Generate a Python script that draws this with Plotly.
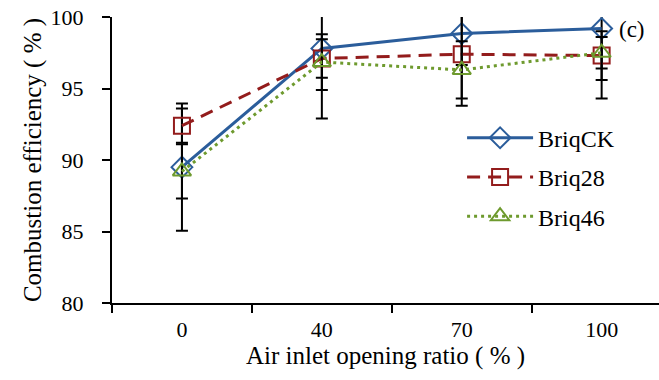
import plotly.graph_objects as go

# Air inlet opening ratio categories (%)
categories = ["0", "40", "70", "100"]

# Combustion efficiency (%) per briquette type
briq_ck = [89.5, 97.8, 98.85, 99.2]
briq_28 = [92.4, 97.1, 97.4, 97.3]
briq_46 = [89.2, 96.85, 96.3, 97.5]

# Symmetric error (+/-) for each point
err_ck = [4.45, 4.9, 2.2, 4.9]
err_28 = [1.2, 1.35, 3.6, 1.7]
err_46 = [1.9, 1.95, 2.0, 1.1]

names = ["BriqCK", "Briq28", "Briq46"]
colors = ["#2B5D9B", "#931C1C", "#6E9A2E"]
symbols = ["diamond-open", "square-open", "triangle-up-open"]
dashes = ["solid", "13px,8px", "3px,4px"]

FONT = "Liberation Serif"
xpos = list(range(len(categories)))

fig = go.Figure()
for name, ys, errs, col, sym, dash in zip(
    names, [briq_ck, briq_28, briq_46], [err_ck, err_28, err_46], colors, symbols, dashes
):
    fig.add_trace(
        go.Scatter(
            x=xpos,
            y=ys,
            name=name,
            legendgroup=name,
            mode="lines+markers",
            line=dict(color=col, width=3, dash=dash),
            marker=dict(symbol=sym, size=16, color=col, line=dict(width=2, color=col)),
            error_y=dict(type="data", array=errs, visible=True, color="black", thickness=2, width=6),
        )
    )

fig.add_annotation(
    text="(c)", x=0.951, y=0.955, xref="paper", yref="paper", showarrow=False,
    xanchor="center", yanchor="middle",
    font=dict(family=FONT, size=23, color="black"),
)

fig.update_layout(
    width=659,
    height=380,
    margin=dict(l=112, r=0, t=17, b=77),
    plot_bgcolor="white",
    paper_bgcolor="white",
    font=dict(family=FONT, size=22, color="black"),
    showlegend=True,
    legend=dict(
        x=0.64, y=0.655, xanchor="left", yanchor="top",
        bgcolor="rgba(0,0,0,0)", traceorder="grouped", tracegroupgap=5,
        itemwidth=66, font=dict(family=FONT, size=24, color="black"),
    ),
)

fig.update_xaxes(
    range=[-0.5, 3.41],
    tickmode="array",
    tickvals=xpos,
    ticktext=categories,
    ticks="",
    ticklabelstandoff=6,
    showgrid=False,
    zeroline=False,
    showline=True,
    linecolor="black",
    linewidth=2,
    minor=dict(tickvals=[-0.5, 0.5, 1.5, 2.5], ticks="outside", ticklen=8, tickwidth=2,
               tickcolor="black", showgrid=False),
    title=dict(text="Air inlet opening ratio ( % )", font=dict(family=FONT, size=25), standoff=3),
    tickfont=dict(family=FONT, size=22),
)

fig.update_yaxes(
    range=[80, 100],
    tickmode="array",
    tickvals=[80, 85, 90, 95, 100],
    ticks="outside",
    ticklen=8,
    tickwidth=2,
    tickcolor="black",
    ticklabelstandoff=14,
    showgrid=False,
    zeroline=False,
    showline=True,
    linecolor="black",
    linewidth=2,
    title=dict(text="Combustion efficiency ( % )", font=dict(family=FONT, size=25), standoff=2),
    tickfont=dict(family=FONT, size=22),
)

fig.write_html("out.html")
